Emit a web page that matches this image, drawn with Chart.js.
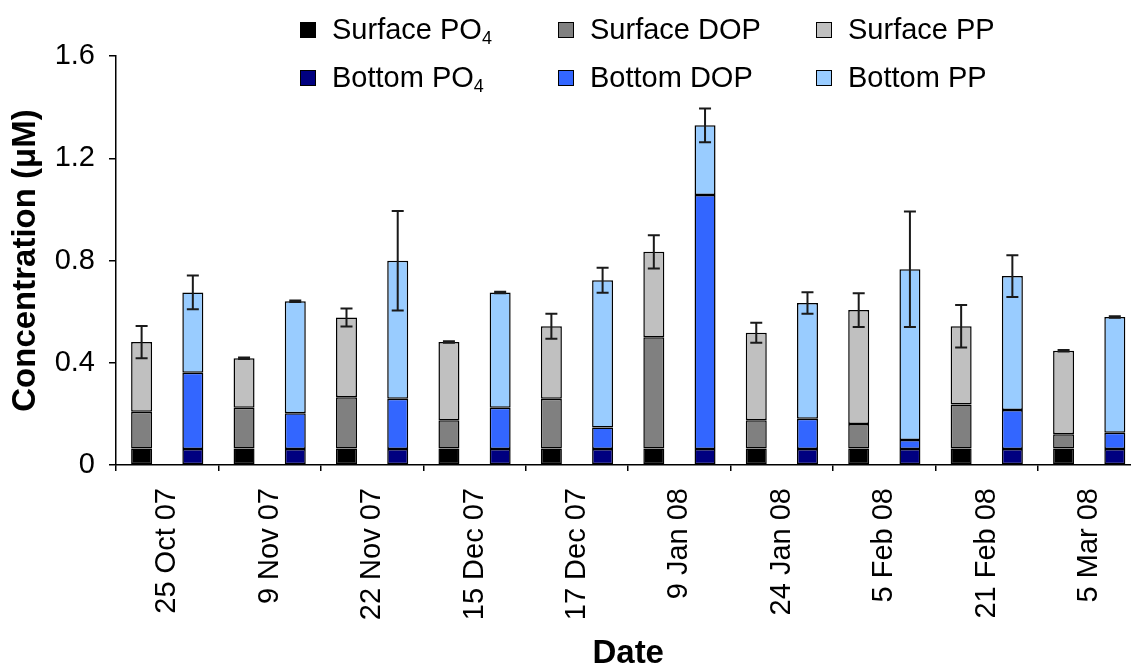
<!DOCTYPE html>
<html>
<head>
<meta charset="utf-8">
<script src="https://cdn.jsdelivr.net/npm/chart.js@4.4.0/dist/chart.umd.min.js"></script>
<style>
  html, body { margin: 0; padding: 0; overflow: hidden; background: #fff; }
  #wrap { position: relative; width: 1141px; height: 668px; }
  #legend { position: absolute; left: 0; top: 0; font-family: "Liberation Sans", Arial, sans-serif; font-size: 29px; color: #000; }
  .item { position: absolute; display: flex; align-items: center; height: 34px; line-height: 1; white-space: nowrap; }
  .sw { width: 14px; height: 14px; border: 1px solid #000; margin-right: 16px; flex: none; }
  .item sub { font-size: 18px; vertical-align: -5px; line-height: 0; }
</style>
</head>
<body>
<div id="wrap">
  <canvas id="chart"></canvas>
  <div id="legend"></div>
</div>
<script>
// Sampling dates
const dates = ['25 Oct 07', '9 Nov 07', '22 Nov 07', '15 Dec 07', '17 Dec 07',
               '9 Jan 08', '24 Jan 08', '5 Feb 08', '21 Feb 08', '5 Mar 08'];

// Surface water phosphorus pools (µM)
const surfacePO4 = [0.065, 0.065, 0.065, 0.065, 0.065, 0.065, 0.065, 0.065, 0.065, 0.065];
const surfaceDOP = [0.143, 0.159, 0.200, 0.110, 0.194, 0.435, 0.110, 0.095, 0.172, 0.055];
const surfacePP  = [0.273, 0.194, 0.312, 0.306, 0.284, 0.334, 0.342, 0.446, 0.306, 0.327];
const surfaceErr = [0.063, 0.003, 0.035, 0.003, 0.049, 0.065, 0.039, 0.066, 0.083, 0.003];

// Bottom water phosphorus pools (µM)
const bottomPO4 = [0.063, 0.063, 0.063, 0.063, 0.063, 0.063, 0.063, 0.063, 0.063, 0.063];
const bottomDOP = [0.298, 0.139, 0.196, 0.161, 0.084, 0.993, 0.118, 0.035, 0.152, 0.063];
const bottomPP  = [0.314, 0.439, 0.540, 0.451, 0.576, 0.273, 0.453, 0.668, 0.524, 0.453];
const bottomErr = [0.066, 0.003, 0.195, 0.003, 0.049, 0.066, 0.042, 0.226, 0.082, 0.003];

// Value axis tick labels
const yTickLabels = ['0', '0.4', '0.8', '1.2', '1.6'];

const FONT = '"Liberation Sans", Arial, sans-serif';

function seg(label, data, color, stack) {
  return {
    label, data, stack,
    backgroundColor: color,
    borderColor: '#000',
    borderWidth: 1.5,
    borderSkipped: false,
    categoryPercentage: 1.0,
    barPercentage: 0.41
  };
}

const datasets = [
  seg('Surface PO₄', surfacePO4, '#000000', 'surface'),
  seg('Surface DOP', surfaceDOP, '#808080', 'surface'),
  seg('Surface PP',  surfacePP,  '#C0C0C0', 'surface'),
  seg('Bottom PO₄',  bottomPO4,  '#000080', 'bottom'),
  seg('Bottom DOP',  bottomDOP,  '#3366FF', 'bottom'),
  seg('Bottom PP',   bottomPP,   '#99CCFF', 'bottom')
];

// Error bars on top of each stacked column (total ± error)
const errorSets = [
  { top: 2, parts: [surfacePO4, surfaceDOP, surfacePP], err: surfaceErr },
  { top: 5, parts: [bottomPO4, bottomDOP, bottomPP], err: bottomErr }
];

const errorBars = {
  id: 'errorBars',
  afterDatasetsDraw(chart) {
    const ctx = chart.ctx;
    const y = chart.scales.y;
    ctx.save();
    ctx.strokeStyle = '#1a1a1a';
    ctx.lineWidth = 2;
    errorSets.forEach(set => {
      const meta = chart.getDatasetMeta(set.top);
      meta.data.forEach((bar, i) => {
        const total = set.parts.reduce((s, arr) => s + arr[i], 0);
        const e = set.err[i];
        const x = bar.x;
        const yHi = y.getPixelForValue(total + e);
        const yLo = y.getPixelForValue(total - e);
        const cap = 6;
        ctx.beginPath();
        ctx.moveTo(x, yHi); ctx.lineTo(x, yLo);
        ctx.moveTo(x - cap, yHi); ctx.lineTo(x + cap, yHi);
        ctx.moveTo(x - cap, yLo); ctx.lineTo(x + cap, yLo);
        ctx.stroke();
      });
    });
    ctx.restore();
  }
};

const chart = new Chart(document.getElementById('chart'), {
  type: 'bar',
  data: { labels: dates, datasets },
  options: {
    responsive: true,
    maintainAspectRatio: false,
    animation: false,
    devicePixelRatio: 1,
    layout: { padding: { top: 56, right: 0, bottom: 0, left: 0 } },
    plugins: { legend: { display: false }, tooltip: { enabled: false } },
    scales: {
      x: {
        stacked: true,
        offset: true,
        grid: { offset: true, drawOnChartArea: false, drawTicks: true, tickLength: 6, color: '#000', lineWidth: 1.5 },
        border: { display: true, color: '#000', width: 1.5 },
        ticks: { autoSkip: false, minRotation: 90, maxRotation: 90, padding: 17, color: '#000', font: { family: FONT, size: 29 } },
        title: { display: true, text: 'Date', color: '#000', padding: 0, font: { family: FONT, size: 33, weight: 'bold', lineHeight: 0.85 } },
        afterFit(s) { s.height = 203; }
      },
      y: {
        stacked: true,
        min: 0,
        max: 1.6,
        grid: { drawOnChartArea: false, drawTicks: true, tickLength: 7, color: '#000', lineWidth: 1.5 },
        border: { display: true, color: '#000', width: 1.5 },
        ticks: { stepSize: 0.4, padding: 14, color: '#000', font: { family: FONT, size: 29 },
                 callback: (v, i) => yTickLabels[i] },
        title: { display: true, text: 'Concentration (μM)', color: '#000', padding: { top: 6, bottom: 0 },
                 font: { family: FONT, size: 33, weight: 'bold' } },
        afterFit(s) { s.width = 116; }
      }
    }
  },
  plugins: [errorBars]
});

// Legend: three columns, two rows, built from the datasets
const legend = document.getElementById('legend');
const colX = [300, 558, 816];
const rowY = [29.5, 77.7];
chart.data.datasets.forEach((ds, k) => {
  const item = document.createElement('div');
  item.className = 'item';
  item.style.left = colX[k % 3] + 'px';
  item.style.top = (rowY[Math.floor(k / 3)] - 17) + 'px';
  const sw = document.createElement('span');
  sw.className = 'sw';
  sw.style.background = ds.backgroundColor;
  const txt = document.createElement('span');
  txt.innerHTML = ds.label.replace('₄', '<sub>4</sub>');
  item.appendChild(sw);
  item.appendChild(txt);
  legend.appendChild(item);
});
</script>
</body>
</html>
